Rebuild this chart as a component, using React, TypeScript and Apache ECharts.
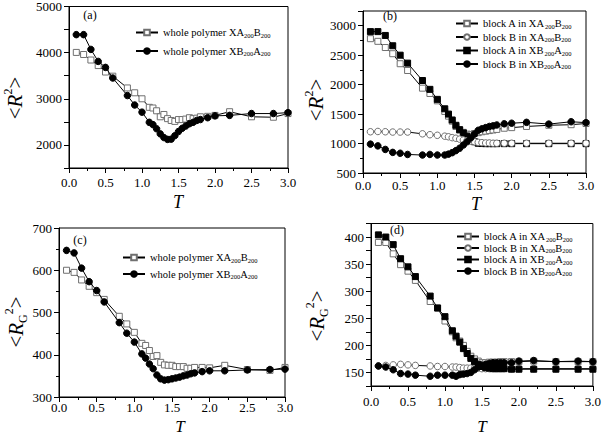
import React, { useEffect, useRef } from "react";
import * as echarts from "echarts";

// Temperatures shared by every series
const T_VALUES = [0.1, 0.2, 0.3, 0.4, 0.5, 0.6, 0.8, 0.9, 1.0, 1.1, 1.15, 1.2, 1.25, 1.3, 1.35, 1.4, 1.45, 1.5, 1.55, 1.6, 1.65, 1.7, 1.75, 1.8, 1.9, 2.0, 2.2, 2.5, 2.8, 3.0];

// (a) <R^2> whole polymer
const A_XA = [4005, 3960, 3840, 3720, 3580, 3490, 3235, 3130, 3000, 2815, 2800, 2740, 2610, 2660, 2570, 2530, 2510, 2550, 2550, 2560, 2590, 2570, 2580, 2610, 2620, 2640, 2720, 2610, 2600, 2680];
const A_XB = [4390, 4390, 4070, 3810, 3680, 3450, 3070, 2865, 2710, 2490, 2440, 2350, 2240, 2160, 2120, 2125, 2200, 2290, 2360, 2410, 2460, 2490, 2530, 2550, 2590, 2630, 2640, 2680, 2680, 2700];

// (b) <R^2> blocks
const B_A_XA = [2780, 2735, 2630, 2525, 2355, 2240, 1940, 1850, 1725, 1545, 1465, 1380, 1290, 1230, 1190, 1160, 1150, 1170, 1185, 1200, 1210, 1220, 1230, 1240, 1260, 1270, 1290, 1310, 1320, 1340];
const B_B_XA = [1200, 1205, 1200, 1195, 1195, 1195, 1165, 1150, 1140, 1125, 1115, 1100, 1090, 1075, 1060, 1050, 1040, 1030, 1020, 1015, 1010, 1010, 1005, 1005, 1005, 1005, 1005, 1005, 1005, 1005];
const B_A_XB = [2900, 2900, 2835, 2660, 2500, 2365, 2070, 1920, 1750, 1590, 1500, 1400, 1310, 1235, 1180, 1125, 1070, 1030, 1005, 1000, 998, 998, 998, 998, 998, 998, 998, 998, 998, 998];
const B_B_XB = [990, 960, 900, 850, 835, 815, 805, 815, 805, 805, 820, 845, 880, 920, 975, 1030, 1095, 1160, 1225, 1250, 1270, 1290, 1300, 1315, 1335, 1345, 1360, 1330, 1370, 1355];

// (c) <RG^2> whole polymer
const C_XA = [600, 595, 577, 562, 547, 531, 491, 473, 453, 427, 422, 410, 396, 398, 382, 376, 375, 375, 372, 372, 372, 368, 368, 370, 370, 369, 375, 365, 363, 370];
const C_XB = [647, 641, 605, 573, 552, 525, 476, 451, 430, 402, 392, 378, 367, 352, 343, 340, 341, 343, 345, 347, 350, 352, 355, 357, 360, 362, 362, 364, 365, 366];

// (d) <RG^2> blocks
const D_A_XA = [390, 390, 369, 349, 337, 320, 281, 269, 245, 225, 214, 208, 200, 189, 180, 175, 171, 168, 168, 169, 169, 169, 170, 170, 170, 170, 171, 170, 170, 170];
const D_B_XA = [162, 163, 164, 165, 164, 163, 162, 161, 161, 160, 160, 159, 158, 158, 158, 158, 158, 157, 157, 157, 157, 157, 157, 157, 157, 157, 157, 157, 157, 157];
const D_A_XB = [404, 400, 386, 360, 345, 327, 291, 269, 253, 227, 217, 206, 194, 185, 176, 170, 165, 161, 159, 158, 157, 157, 157, 157, 156, 156, 156, 156, 156, 156];
const D_B_XB = [162, 160, 155, 148, 147, 145, 143, 145, 145, 145, 143, 146, 147, 148, 150, 155, 160, 163, 165, 167, 168, 168, 168, 168, 168, 171, 172, 170, 171, 170];

// Legend labels
const LEG_WHOLE = ["whole polymer XA200B200", "whole polymer XB200A200"];
const LEG_BLOCK = ["block A in XA200B200", "block B in XA200B200", "block A in XB200A200", "block B in XB200A200"];

// Tick labels
const X_LABELS = [0, 0.5, 1, 1.5, 2, 2.5, 3];
const Y_LABELS_A = [2000, 3000, 4000, 5000];
const Y_LABELS_B = [500, 1000, 1500, 2000, 2500, 3000];
const Y_LABELS_C = [300, 400, 500, 600, 700];
const Y_LABELS_D = [150, 200, 250, 300, 350, 400];

const FAM = "Liberation Serif";

function toRich(s: string): string {
  const parts = s.split(/(\d+)/).filter((p) => p.length > 0);
  return parts.map((p) => (/^\d+$/.test(p) ? `{s|${p}}` : `{n|${p}}`)).join("");
}

type Kind = "osq" | "oci" | "fsq" | "fci";

function mkSeries(panel: string, label: string, idx: number, values: number[], kind: Kind, z: number) {
  const open = kind === "osq" || kind === "oci";
  const square = kind === "osq" || kind === "fsq";
  return {
    type: "line",
    name: `${panel}:${label}`,
    xAxisIndex: idx,
    yAxisIndex: idx,
    data: T_VALUES.map((t, i) => [t, values[i]]),
    symbol: square ? "rect" : "circle",
    symbolSize: square ? 6 : 6.5,
    showSymbol: true,
    showAllSymbol: true,
    z,
    lineStyle: { color: "#000", width: 1 },
    itemStyle: {
      color: open ? "#fff" : "#000",
      borderColor: open ? "#707070" : "#000",
      borderWidth: 1,
      opacity: 1,
    },
    emphasis: { disabled: true },
  };
}

function xAxis(idx: number, margin: number) {
  return {
    gridIndex: idx,
    type: "value",
    min: 0,
    max: 3,
    interval: 0.5,
    axisLine: { onZero: false, lineStyle: { color: "#000", width: 1 } },
    axisTick: { length: 5, lineStyle: { color: "#000" } },
    minorTick: { show: true, splitNumber: 2, length: 3, lineStyle: { color: "#000" } },
    splitLine: { show: false },
    axisLabel: {
      color: "#000",
      fontFamily: FAM,
      fontSize: 13,
      margin,
      formatter: (v: number) => (X_LABELS.some((x) => Math.abs(x - v) < 1e-6) ? v.toFixed(1) : ""),
    },
  };
}

function yAxis(idx: number, min: number, max: number, interval: number, labels: number[], minor: boolean) {
  return {
    gridIndex: idx,
    type: "value",
    min,
    max,
    interval,
    axisLine: { show: true, onZero: false, lineStyle: { color: "#000", width: 1 } },
    axisTick: { show: true, length: 5, lineStyle: { color: "#000" } },
    minorTick: { show: minor, splitNumber: 2, length: 3, lineStyle: { color: "#000" } },
    splitLine: { show: false },
    axisLabel: {
      color: "#000",
      fontFamily: FAM,
      fontSize: 13,
      margin: 7,
      formatter: (v: number) => (labels.includes(Math.round(v)) ? String(Math.round(v)) : ""),
    },
  };
}

function legend(panel: string, labels: string[], left: number, top: number, itemGap: number, lh: number) {
  return {
    orient: "vertical",
    left,
    top,
    itemWidth: 22,
    itemHeight: 7,
    itemGap,
    padding: 0,
    selectedMode: false,
    data: labels.map((l) => `${panel}:${l}`),
    formatter: (name: string) => toRich(name.slice(name.indexOf(":") + 1)),
    textStyle: {
      fontFamily: FAM,
      fontSize: 10.5,
      color: "#000",
      rich: {
        n: { fontFamily: FAM, fontSize: 10.5, color: "#000", lineHeight: lh },
        s: { fontFamily: FAM, fontSize: 6.5, color: "#000", lineHeight: 6, verticalAlign: "bottom" },
      },
    },
  };
}

function txt(x: number, y: number, text: string, size: number, italic = false) {
  return {
    type: "text",
    x,
    y,
    silent: true,
    style: {
      text,
      fill: "#000",
      fontFamily: FAM,
      fontSize: size,
      fontStyle: italic ? "italic" : "normal",
      align: "center",
      verticalAlign: "middle",
      textAlign: "center",
      textVerticalAlign: "middle",
    },
  };
}

function yTitle(x: number, y: number, withG: boolean) {
  const text = withG ? "{n|<}{i|R}{b|G}{p|2}{n|>}" : "{n|<}{i|R}{p|2}{n|>}";
  return {
    type: "text",
    x,
    y,
    rotation: Math.PI / 2,
    silent: true,
    style: {
      text,
      fill: "#000",
      fontFamily: FAM,
      fontSize: 20,
      align: "center",
      verticalAlign: "middle",
      textAlign: "center",
      textVerticalAlign: "middle",
      rich: {
        n: { fontFamily: FAM, fontSize: 21, lineHeight: 26, fill: "#000", color: "#000" },
        i: { fontFamily: FAM, fontSize: 21, fontStyle: "italic", lineHeight: 26, fill: "#000", color: "#000" },
        p: { fontFamily: FAM, fontSize: 12, lineHeight: 12, verticalAlign: "top", fill: "#000", color: "#000" },
        b: { fontFamily: FAM, fontSize: 12, lineHeight: 9, verticalAlign: "bottom", fill: "#000", color: "#000" },
      },
    },
  };
}

export default function App() {
  const ref = useRef<HTMLDivElement>(null);

  useEffect(() => {
    if (!ref.current) return;
    const chart = echarts.init(ref.current, undefined, { renderer: "svg" });
    const grids = [
      { left: 69, top: 6, width: 219, height: 162 },
      { left: 363, top: 11, width: 223, height: 162 },
      { left: 59, top: 228, width: 226, height: 169 },
      { left: 371, top: 223.5, width: 224, height: 162.5 },
    ].map((g) => ({ ...g, show: true, borderColor: "#000", borderWidth: 1, backgroundColor: "transparent" }));

    const option = {
      animation: false,
      backgroundColor: "#fff",
      grid: grids,
      xAxis: [xAxis(0, 8), xAxis(1, 6), xAxis(2, 4), xAxis(3, 9)],
      yAxis: [
        yAxis(0, 1500, 5000, 500, Y_LABELS_A, false),
        yAxis(1, 500, 3250, 500, Y_LABELS_B, true),
        yAxis(2, 300, 700, 100, Y_LABELS_C, true),
        yAxis(3, 125, 425, 25, Y_LABELS_D, false),
      ],
      legend: [
        legend("a", LEG_WHOLE, 135, 27, 7, 12),
        legend("b", LEG_BLOCK, 455, 18, 2, 12),
        legend("c", LEG_WHOLE, 122, 252, 5, 12),
        legend("d", LEG_BLOCK, 456, 231, 0, 12),
      ],
      series: [
        mkSeries("a", LEG_WHOLE[0], 0, A_XA, "osq", 3),
        mkSeries("a", LEG_WHOLE[1], 0, A_XB, "fci", 4),
        mkSeries("b", LEG_BLOCK[0], 1, B_A_XA, "osq", 3),
        mkSeries("b", LEG_BLOCK[1], 1, B_B_XA, "oci", 5),
        mkSeries("b", LEG_BLOCK[2], 1, B_A_XB, "fsq", 4),
        mkSeries("b", LEG_BLOCK[3], 1, B_B_XB, "fci", 6),
        mkSeries("c", LEG_WHOLE[0], 2, C_XA, "osq", 3),
        mkSeries("c", LEG_WHOLE[1], 2, C_XB, "fci", 4),
        mkSeries("d", LEG_BLOCK[0], 3, D_A_XA, "osq", 3),
        mkSeries("d", LEG_BLOCK[1], 3, D_B_XA, "oci", 4),
        mkSeries("d", LEG_BLOCK[2], 3, D_A_XB, "fsq", 5),
        mkSeries("d", LEG_BLOCK[3], 3, D_B_XB, "fci", 6),
      ],
      graphic: [
        txt(90, 15, "(a)", 12),
        txt(390, 16, "(b)", 12),
        txt(80, 240, "(c)", 12),
        txt(397, 230, "(d)", 12),
        txt(178, 202, "T", 18, true),
        txt(476, 204, "T", 18, true),
        txt(180, 426, "T", 17, true),
        txt(482, 426, "T", 17, true),
        yTitle(15, 98, false),
        yTitle(316, 100, false),
        yTitle(16, 322, true),
        yTitle(317, 316, true),
      ],
    };
    chart.setOption(option as any);
    return () => chart.dispose();
  }, []);

  return (
    <div
      ref={ref}
      style={{ position: "absolute", left: 0, top: 0, width: 604, height: 435, background: "#fff" }}
    />
  );
}
